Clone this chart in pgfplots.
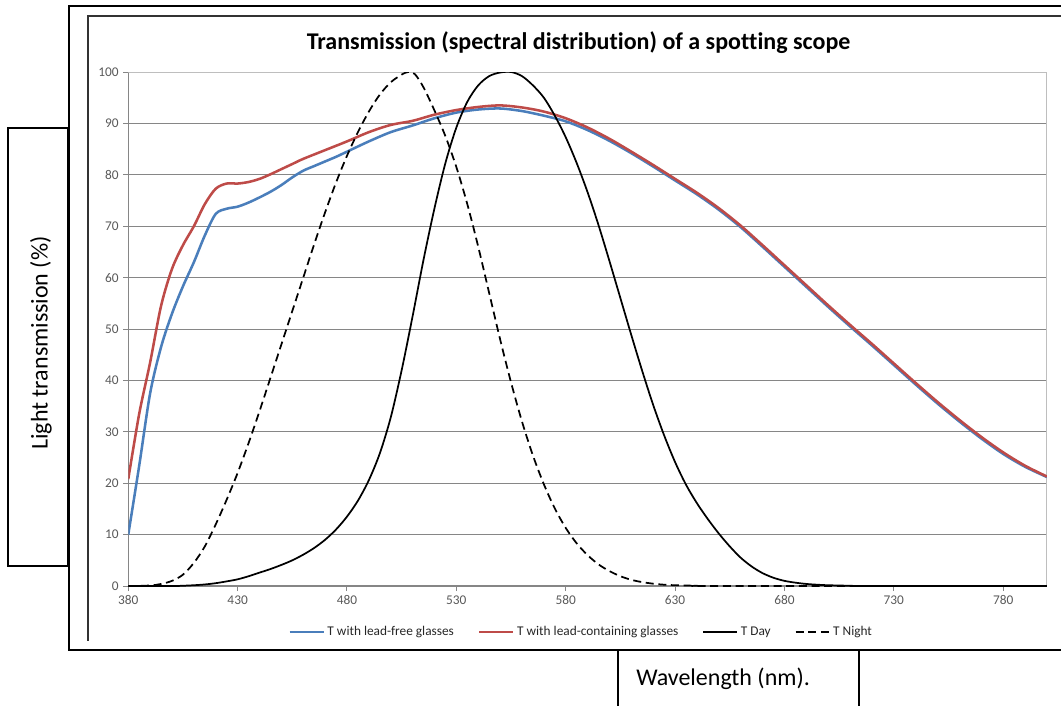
\documentclass[border=0pt]{standalone}
\usepackage{fontspec}
\setmainfont{Carlito}[Ligatures=NoCommon]
\usepackage{pgfplots}
\pgfplotsset{compat=1.18}
\definecolor{leadfree}{RGB}{74,126,187}
\definecolor{leadcont}{RGB}{190,75,72}
\definecolor{gridgray}{RGB}{134,134,134}
\definecolor{bordergray}{RGB}{190,190,190}
\definecolor{ticktext}{RGB}{89,89,89}

\begin{document}
\begin{tikzpicture}
\useasboundingbox (0,0) rectangle (795.75pt,-529.5pt);
\begin{axis}[
  at={(96.2pt,-439.5pt)}, anchor=south west,
  scale only axis, width=689pt, height=385.5pt,
  xmin=380, xmax=800, ymin=0, ymax=100,
  xtick={380,430,...,780}, ytick={0,10,...,100},
  ymajorgrids, grid style={gridgray, line width=0.75pt},
  axis x line*=bottom, axis y line*=left,
  x axis line style={-, gridgray, line width=0.8pt},
  y axis line style={-, gridgray, line width=0.8pt},
  tick align=outside, major tick length=3.75pt,
  tick style={gridgray, line width=0.75pt},
  ticklabel style={font=\fontsize{10}{12}\selectfont, text=ticktext},
  /pgf/number format/assume math mode=true,
  legend style={at={(rel axis cs:0.4933,-0.0895)}, anchor=center,
    draw=none, fill=none, font=\fontsize{10}{12}\selectfont,
    text=black!85,
    /tikz/every even column/.append style={column sep=16pt}},
  legend columns=4,
  legend image code/.code={\draw[#1] (0pt,0pt) -- (25.5pt,0pt);},
]
\draw[bordergray, line width=1.2pt] (rel axis cs:0,1) -- (rel axis cs:1,1) -- (rel axis cs:1,0);

% T with lead-free glasses
\addplot[leadfree, line width=1.9pt, smooth] coordinates {
(380,10) (385,23.4) (390,37.5) (395,46.5) (400,53) (405,58.3) (410,63)
(415,68.2) (420,72.4) (425,73.4) (430,73.8) (435,74.6) (440,75.6) (445,76.7)
(450,78) (455,79.5) (460,80.8) (465,81.7) (470,82.6) (475,83.5) (480,84.5)
(490,86.5) (500,88.3) (510,89.6) (520,91) (530,92.1) (540,92.7) (550,92.9)
(560,92.4) (570,91.5) (580,90.4) (590,88.7) (600,86.6) (610,84.2) (620,81.6)
(630,78.9) (640,76.2) (650,73.2) (660,69.8) (670,66) (680,62.1) (690,58.2)
(700,54.3) (710,50.5) (720,46.8) (730,43) (740,39.2) (750,35.5) (760,32)
(770,28.7) (780,25.7) (790,23.2) (800,21.2)
};

% T with lead-containing glasses
\addplot[leadcont, line width=1.9pt, smooth] coordinates {
(380,20.8) (385,33.5) (390,43.5) (395,54.5) (400,61.7) (405,66.3) (410,70)
(415,74.3) (420,77.3) (425,78.3) (430,78.3) (435,78.6) (440,79.2) (445,80.1)
(450,81.1) (455,82.1) (460,83.1) (470,84.8) (480,86.5) (490,88.3) (500,89.7)
(510,90.5) (520,91.7) (530,92.6) (540,93.2) (550,93.5) (560,93.1) (570,92.3)
(580,91) (590,89.2) (600,87) (610,84.5) (620,81.9) (630,79.2) (640,76.5)
(650,73.5) (660,70.1) (670,66.3) (680,62.4) (690,58.5) (700,54.6) (710,50.8)
(720,47.1) (730,43.3) (740,39.5) (750,35.8) (760,32.3) (770,29) (780,26)
(790,23.4) (800,21.3)
};

% T Day
\addplot[black, line width=1.3pt, smooth] coordinates {
(380,0) (400,0) (405,0.05) (410,0.15) (415,0.3) (420,0.55) (425,0.9)
(430,1.3) (435,1.9) (440,2.6) (445,3.3) (450,4.1) (455,5) (460,6.1)
(465,7.4) (470,9) (475,11) (480,13.5) (485,16.6) (490,20.6) (495,25.8)
(500,32.8) (505,42) (510,52.5) (515,63.5) (520,73.5) (525,82.3) (530,89.2)
(535,94.2) (540,97.4) (545,99.2) (550,99.9) (555,100) (560,99.2) (565,97.4)
(570,95) (575,91.5) (580,87.3) (585,82.3) (590,76.6) (595,70.2) (600,63.2)
(605,56) (610,48.8) (615,41.8) (620,35.2) (625,29.3) (630,24.1) (635,19.7)
(640,16.1) (645,13) (650,10.2) (655,7.7) (660,5.5) (665,3.8) (670,2.5)
(675,1.6) (680,1) (685,0.65) (690,0.4) (695,0.25) (700,0.15) (710,0.05)
(720,0) (800,0)
};

% T Night
\addplot[black, line width=1.3pt, dash pattern=on 6pt off 3.5pt, smooth] coordinates {
(380,0) (390,0.1) (395,0.4) (400,1) (405,2.2) (410,4.5) (415,7.7)
(420,12) (425,16.8) (430,22) (435,27.8) (440,34) (445,40.5) (450,47)
(455,53.5) (460,60) (465,66.5) (470,72.7) (475,78.5) (480,83.7) (485,88.3)
(490,92.3) (495,95.6) (500,98) (505,99.5) (508,100) (511,99.6) (515,97)
(520,92.5) (525,87.5) (530,81.5) (535,74.3) (540,66) (545,57) (550,48)
(555,39.6) (560,32) (565,25.4) (570,19.8) (575,15.1) (580,11.3) (585,8.3)
(590,6) (595,4.2) (600,2.9) (605,1.9) (610,1.2) (615,0.75) (620,0.45)
(625,0.25) (630,0.15) (640,0.05) (650,0) (800,0)
};

\legend{T with lead-free glasses, T with lead-containing glasses, T Day, T Night}
\end{axis}

\begin{scope}[x=0.75pt, y=-0.75pt]
  \draw[line width=1.5pt] (1062,6) -- (69,6) -- (69,650) -- (1062,650);
  \draw[line width=0.8pt, black!80] (1062,16) -- (88,16) -- (88,641);
  \draw[line width=1.1pt] (8,128) rectangle (67.5,566);
  \draw[line width=1.1pt] (618,650) -- (618,712);
  \draw[line width=1.1pt] (859,650) -- (859,712);
  \node[rotate=90, font=\fontsize{18}{22}\selectfont, inner sep=0pt] at (41,343) {Light transmission (\%)};
  \node[font=\fontsize{18}{22}\selectfont, anchor=base west, inner sep=0pt] at (636,685) {Wavelength (nm).};
  \node[font=\bfseries\fontsize{18}{22}\selectfont, anchor=base, inner sep=0pt] at (578.5,49.5) {Transmission (spectral distribution) of a spotting scope};
\end{scope}
\end{tikzpicture}
\end{document}
